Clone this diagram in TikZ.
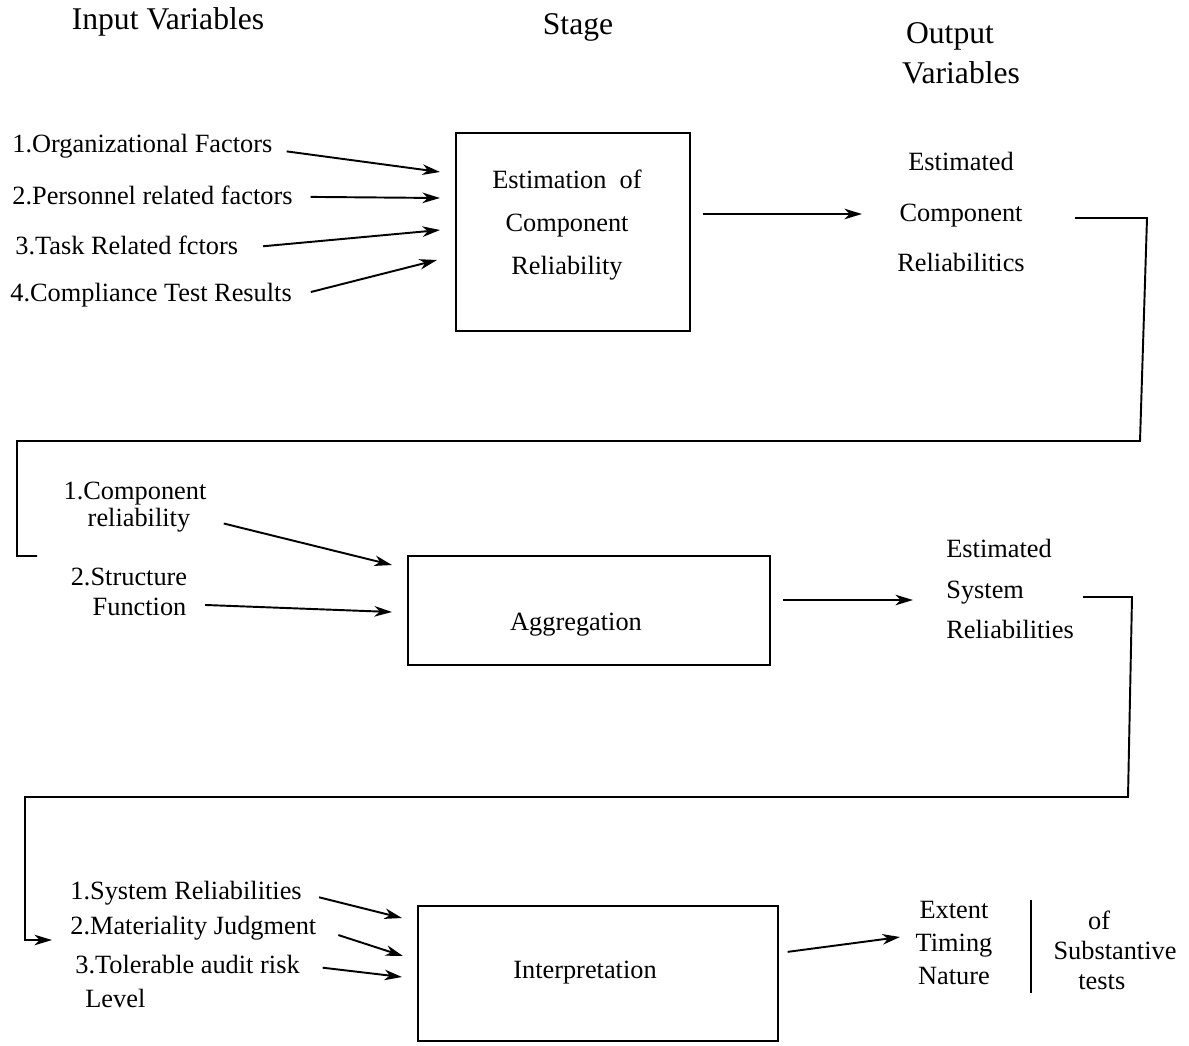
\documentclass[tikz,border=0pt]{standalone}
\usepackage{fontspec}
\setmainfont{Liberation Serif}
\usetikzlibrary{arrows.meta}
\tikzset{txt/.style={font=\fontsize{15}{18}\selectfont, inner sep=0pt},
    head/.style={font=\fontsize{18}{21}\selectfont, inner sep=0pt},
    stagebox/.style={draw, line width=1.1pt, inner sep=0pt},
    conn/.style={line width=1.1pt},
    arr/.style={conn, -{Stealth[length=10pt,width=6pt,inset=3pt]}},
    x=0.02cm, y=-0.02cm}

\begin{document}
\begin{tikzpicture}
\useasboundingbox (0,0) rectangle (1189,1045);
\node[head] (hIn) at (168,22) {Input Variables};
\node[head] (hStage) at (578,27) {Stage};
\node[head, align=center, font=\fontsize{18}{23}\selectfont] (hOut) at (950,53) {Output\\\hspace*{0.7em}Variables};

% stage 1
\node[stagebox, minimum width=4.68cm, minimum height=3.96cm] (est) at (573,232) {};
\node[txt, align=center, font=\fontsize{15}{24.5}\selectfont] (estTxt) at (567,225) {Estimation\ \ of\\Component\\Reliability};
\node[txt, anchor=west] (in1) at (12,146) {1.Organizational Factors};
\node[txt, anchor=west] (in2) at (12,195) {2.Personnel related factors};
\node[txt, anchor=west] (in3) at (15,245) {3.Task Related fctors};
\node[txt, anchor=west] (in4) at (10,295) {4.Compliance Test Results};
\coordinate (t1) at (440,172);
\coordinate (t2) at (440,198);
\coordinate (t3) at (440,230);
\coordinate (t4) at (437,260);
\draw[arr, shorten <=8pt] ([yshift=-2pt]in1.east) -- (t1);
\draw[arr, shorten <=10pt] ([yshift=-1pt]in2.east) -- (t2);
\draw[arr, shorten <=14pt] ([yshift=-2pt]in3.east) -- (t3);
\draw[arr, shorten <=11pt] ([yshift=-1pt]in4.east) -- (t4);
\node[txt, align=center, font=\fontsize{15}{28.5}\selectfont] (out1) at (961,212) {Estimated\\Component\\Reliabilitics};
\coordinate (a1) at (862,214);
\draw[arr, shorten <=7pt] (est.east |- a1) -- (a1);
\coordinate (k0) at (1075,218);
\coordinate (k1) at (1147,218);
\coordinate (k2) at (1140,441);
\coordinate (k3) at (17,441);
\coordinate (k4) at (17,556);
\coordinate (k5) at (37,556);
\draw[conn] (k0) -- (k1) -- (k2) -- (k3) -- (k4) -- (k5);

% stage 2
\node[stagebox, minimum width=7.24cm, minimum height=2.18cm] (agg) at (589,610.5) {};
\node[txt] (aggTxt) at (576,625) {Aggregation};
\node[txt, align=center, font=\fontsize{15}{15.5}\selectfont] (cr) at (135,507) {1.Component\\\hspace*{0.3em}reliability};
\node[txt, align=center, font=\fontsize{15}{17}\selectfont] (sf) at (129,592) {2.Structure\\\hspace*{0.8em}Function};
\coordinate (t5) at (392,565);
\coordinate (t6) at (392,612);
\draw[arr, shorten <=10pt] ([yshift=-7pt]cr.east) -- (t5);
\draw[arr, shorten <=10pt] ([yshift=-7pt]sf.east) -- (t6);
\node[txt, align=left, anchor=west, font=\fontsize{15}{23.2}\selectfont] (out2) at (946,589) {Estimated\\System\\Reliabilities};
\coordinate (a2) at (913,600);
\draw[arr, shorten <=7pt] (agg.east |- a2) -- (a2);
\coordinate (m0) at (1083,597);
\coordinate (m1) at (1132,597);
\coordinate (m2) at (1128,797);
\coordinate (m3) at (25,797);
\coordinate (m4) at (25,940);
\coordinate (m5) at (52,940);
\draw[arr] (m0) -- (m1) -- (m2) -- (m3) -- (m4) -- (m5);

% stage 3
\node[stagebox, minimum width=7.2cm, minimum height=2.7cm] (intp) at (598,973.5) {};
\node[txt] (intpTxt) at (585,973) {Interpretation};
\node[txt, anchor=west] (s1) at (70,893) {1.System Reliabilities};
\node[txt, anchor=west] (s2) at (70,928) {2.Materiality Judgment};
\node[txt, anchor=west] (s3) at (75,965) {3.Tolerable audit risk};
\node[txt, anchor=west] (s3l) at (85,998) {Level};
\coordinate (t7) at (402,918);
\coordinate (t8) at (403,956);
\coordinate (t9) at (402,977);
\draw[arr, shorten <=10pt] (s1.east) -- (t7);
\draw[arr, shorten <=13pt] (s2.east) -- (t8);
\draw[arr, shorten <=13pt] (s3.east) -- (t9);
\node[txt, align=center, font=\fontsize{15}{18.7}\selectfont] (ext) at (954,943) {Extent\\Timing\\Nature};
\coordinate (a3) at (900,937);
\draw[arr, shorten <=5pt] (intp.east |- 0,953) -- (a3);
\coordinate (v1) at (1031,900);
\coordinate (v2) at (1031,993);
\draw[conn] (v1) -- (v2);
\node[txt, align=center, font=\fontsize{15}{17}\selectfont] (subst) at (1115,950) {of\hspace*{1.2em}\\Substantive\\tests\hspace*{1em}};
\end{tikzpicture}
\end{document}
